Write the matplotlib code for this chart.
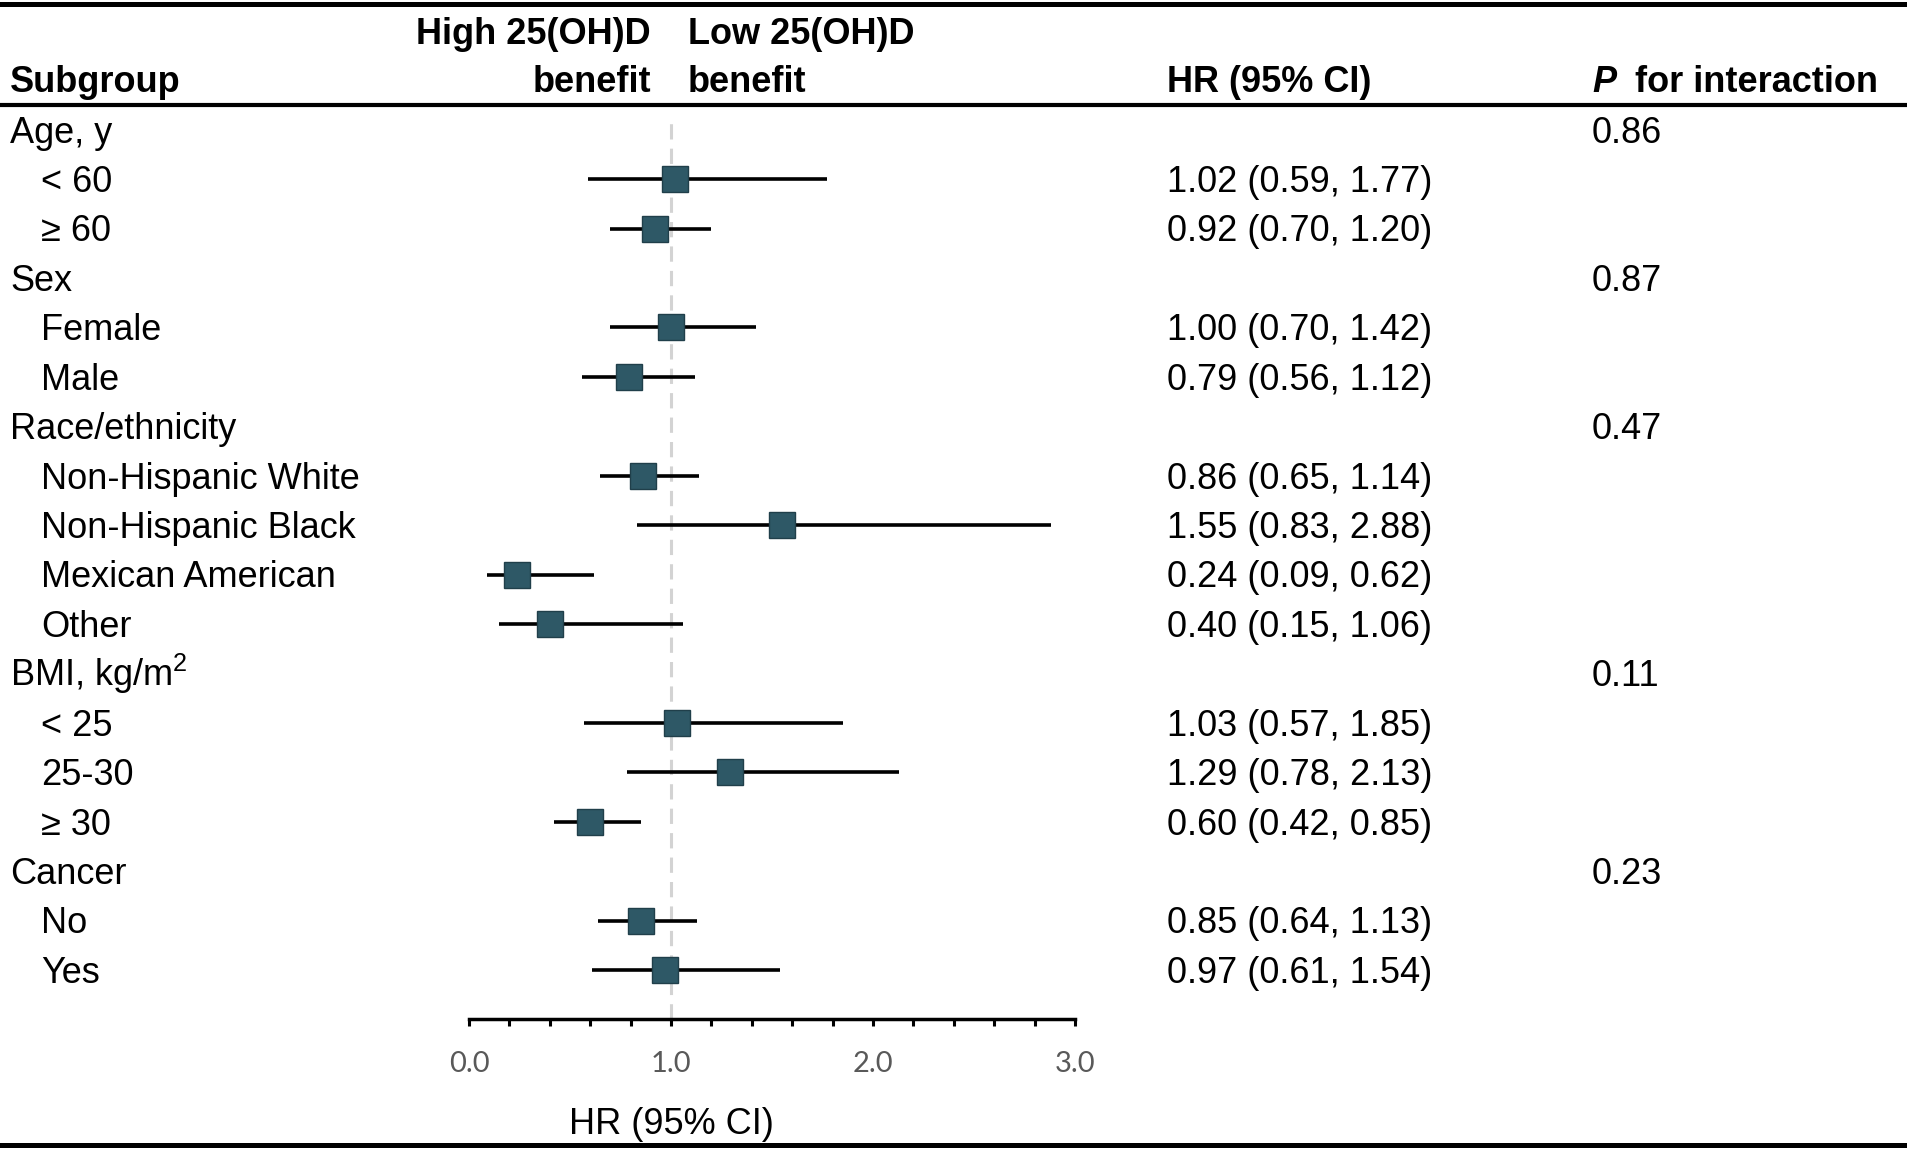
import matplotlib
matplotlib.use('Agg')
import matplotlib.pyplot as plt
from matplotlib.lines import Line2D
from matplotlib.ticker import MultipleLocator
import matplotlib.transforms as mtransforms

# datos del forest plot
group_names = ['Age, y', 'Sex', 'Race/ethnicity', r'BMI, kg/m$^2$', 'Cancer']
p_interaction = ['0.86', '0.87', '0.47', '0.11', '0.23']
subgroups = [['< 60', '≥ 60'],
             ['Female', 'Male'],
             ['Non-Hispanic White', 'Non-Hispanic Black', 'Mexican American', 'Other'],
             ['< 25', '25-30', '≥ 30'],
             ['No', 'Yes']]
hr = [1.02, 0.92, 1.00, 0.79, 0.86, 1.55, 0.24, 0.40, 1.03, 1.29, 0.60, 0.85, 0.97]
lo = [0.59, 0.70, 0.70, 0.56, 0.65, 0.83, 0.09, 0.15, 0.57, 0.78, 0.42, 0.64, 0.61]
hi = [1.77, 1.20, 1.42, 1.12, 1.14, 2.88, 0.62, 1.06, 1.85, 2.13, 0.85, 1.13, 1.54]
x_ticks = [0.0, 1.0, 2.0, 3.0]

plt.rcParams['font.family'] = ['Liberation Sans', 'DejaVu Sans']
plt.rcParams['mathtext.fontset'] = 'custom'
plt.rcParams['mathtext.rm'] = 'Liberation Sans'
plt.rcParams['mathtext.it'] = 'Liberation Sans:italic'
plt.rcParams['mathtext.bf'] = 'Liberation Sans:bold'

W, H = 1907, 1152
FS = 26


def fx(px):
    return px / W


def fy(px):
    return 1 - px / H


fig = plt.figure(figsize=(W / 100, H / 100), dpi=100)
ax = fig.add_axes([fx(469), fy(1019), (1075 - 469) / W, (1019 - 105) / H])

# filas: cabecera de grupo + subgrupos
rows_group = []
rows_sub = []
sub_labels = []
r = 0
for g, subs in zip(group_names, subgroups):
    rows_group.append(r)
    r += 1
    for s in subs:
        rows_sub.append(r)
        sub_labels.append(s)
        r += 1
n_rows = r

ax.set_xlim(0, 3)
ax.set_ylim(n_rows - 0.5 + 0.49, -0.5)

# linea de referencia
ax.axvline(1.0, ymin=0, ymax=(n_rows - 0.01 + 0.25) / (n_rows + 0.49),
           color='#D3D3D3', lw=2.2, dashes=(5, 3), zorder=1)

ax.hlines(rows_sub, lo, hi, color='black', lw=2.6, zorder=2)
ax.plot(hr, rows_sub, 's', ms=18.5, mfc='#2E5866', mec='#203F4A', mew=1, zorder=3)

for sp in ['top', 'left', 'right']:
    ax.spines[sp].set_visible(False)
ax.spines['bottom'].set_linewidth(2.5)
ax.set_yticks([])
ax.set_xticks(x_ticks)
ax.set_xticklabels([f'{t:.1f}' for t in x_ticks], fontfamily='Lato', fontsize=21, color='#595959')
ax.xaxis.set_minor_locator(MultipleLocator(0.2))
ax.tick_params(axis='x', which='both', direction='out', length=5, width=2.2, color='black')
ax.tick_params(axis='x', which='major', pad=18)

# etiqueta del eje
tr_x = mtransforms.blended_transform_factory(ax.transData, fig.transFigure)
ax.text(1.0, fy(1134), 'HR (95% CI)', transform=tr_x, ha='center', va='baseline', fontsize=FS)

# columnas de texto
tr = mtransforms.blended_transform_factory(fig.transFigure, ax.transData)
off = 0.26
for g, p, y in zip(group_names, p_interaction, rows_group):
    ax.text(fx(10), y + off, g, transform=tr, fontsize=FS, va='baseline')
    ax.text(fx(1592), y + off, p, transform=tr, fontsize=FS, va='baseline')
for s, y, h, l, u in zip(sub_labels, rows_sub, hr, lo, hi):
    ax.text(fx(41), y + off, s, transform=tr, fontsize=FS, va='baseline')
    ax.text(fx(1167), y + off, f'{h:.2f} ({l:.2f}, {u:.2f})', transform=tr,
            fontsize=FS, va='baseline')

# cabecera
fig.text(fx(10), fy(92), 'Subgroup', fontsize=FS, fontweight='bold', va='baseline')
fig.text(fx(651), fy(44), 'High 25(OH)D', fontsize=FS, fontweight='bold', va='baseline', ha='right')
fig.text(fx(651), fy(92), 'benefit', fontsize=FS, fontweight='bold', va='baseline', ha='right')
fig.text(fx(688), fy(44), 'Low 25(OH)D', fontsize=FS, fontweight='bold', va='baseline')
fig.text(fx(688), fy(92), 'benefit', fontsize=FS, fontweight='bold', va='baseline')
fig.text(fx(1167), fy(92), 'HR (95% CI)', fontsize=FS, fontweight='bold', va='baseline')
fig.text(fx(1592), fy(92), 'P', fontsize=FS, fontweight='bold', fontstyle='italic', va='baseline')
fig.text(fx(1878), fy(92), 'for interaction', fontsize=FS, fontweight='bold', va='baseline', ha='right')

# lineas horizontales de la tabla
for ypx, lw in [(4, 3.6), (105, 3.0), (1145, 3.6)]:
    fig.add_artist(Line2D([0, 1], [fy(ypx), fy(ypx)], transform=fig.transFigure,
                          color='black', lw=lw))

fig.savefig('out.png', dpi=100)
